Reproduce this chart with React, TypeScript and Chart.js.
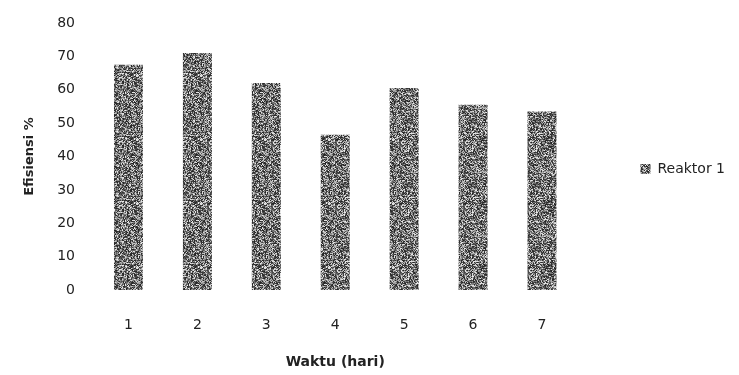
import React, { useEffect, useRef } from "react";
import { Chart, registerables } from "chart.js";

Chart.register(...registerables);

// Efisiensi reaktor per hari
const days: string[] = ["1", "2", "3", "4", "5", "6", "7"];
const reaktor1: number[] = [67.5, 71, 62, 46.5, 60.5, 55.5, 53.5];
const yTicks = { min: 0, max: 80, step: 10 };

const FONT = "'DejaVu Sans', sans-serif";
const TEXT = "#222";
const LEGEND_CENTER_Y = 169;

// speckled grey fill, like a halftone print
function makeSpeckle(): CanvasPattern | string {
  const c = document.createElement("canvas");
  c.width = 64;
  c.height = 64;
  const ctx = c.getContext("2d");
  if (!ctx) return "#5c5c5c";
  const img = ctx.createImageData(64, 64);
  for (let y = 0; y < 64; y++) {
    for (let x = 0; x < 64; x++) {
      let h = Math.imul(x + 1, 374761393) ^ Math.imul(y + 7, 668265263);
      h = Math.imul(h ^ (h >>> 13), 1274126177);
      h = (h ^ (h >>> 16)) >>> 0;
      const t = (h % 1000) / 1000;
      const g = Math.round(35 + Math.pow(t, 1.5) * 205);
      const i = (y * 64 + x) * 4;
      img.data[i] = g;
      img.data[i + 1] = g;
      img.data[i + 2] = g;
      img.data[i + 3] = 255;
    }
  }
  ctx.putImageData(img, 0, 0);
  return ctx.createPattern(c, "repeat") || "#5c5c5c";
}

// keeps the legend entry a little below the plot's mid-height
const legendPlacement = {
  id: "legendPlacement",
  afterLayout(chart: any) {
    const lg = chart.legend;
    if (!lg) return;
    const shift = LEGEND_CENTER_Y - (lg.top + lg.bottom) / 2;
    lg.top += shift;
    lg.bottom += shift;
  },
};

export default function App() {
  const ref = useRef<HTMLCanvasElement>(null);

  useEffect(() => {
    document.body.style.margin = "0";
    const canvas = ref.current;
    if (!canvas) return;
    const fill = makeSpeckle();
    const chart = new Chart(canvas, {
      type: "bar",
      data: {
        labels: days,
        datasets: [
          {
            label: "Reaktor 1",
            data: reaktor1,
            backgroundColor: fill as any,
            borderWidth: 0,
            barPercentage: 0.42,
            categoryPercentage: 1,
          },
        ],
      },
      plugins: [legendPlacement],
      options: {
        animation: false,
        responsive: false,
        devicePixelRatio: 1,
        layout: { padding: { top: 23, right: 4, bottom: 0, left: 0 } },
        plugins: {
          tooltip: { enabled: false },
          legend: {
            position: "right",
            align: "center",
            labels: {
              boxWidth: 10,
              boxHeight: 10,
              padding: 64,
              color: TEXT,
              font: { family: FONT, size: 14 },
            },
          },
        },
        scales: {
          x: {
            grid: { display: false, drawTicks: false },
            border: { display: false },
            ticks: {
              color: TEXT,
              padding: 27,
              font: { family: FONT, size: 14 },
            },
            title: {
              display: true,
              text: "Waktu (hari)",
              color: TEXT,
              padding: { top: 0, bottom: 4 },
              font: { family: FONT, size: 14, weight: "bold" },
            },
            afterFit(scale: any) {
              scale.height = 85;
            },
          },
          y: {
            min: yTicks.min,
            max: yTicks.max,
            grid: { display: false, drawTicks: false },
            border: { display: false },
            ticks: {
              stepSize: yTicks.step,
              color: TEXT,
              padding: 19,
              font: { family: FONT, size: 14 },
            },
            title: {
              display: true,
              text: "Efisiensi %",
              color: TEXT,
              padding: { top: 22, bottom: 0 },
              font: { family: FONT, size: 13, weight: "bold" },
            },
            afterFit(scale: any) {
              scale.width = 94;
              scale.paddingTop = 0;
              scale.paddingBottom = 0;
            },
          },
        },
      },
    });
    return () => chart.destroy();
  }, []);

  return (
    <div style={{ width: 739, height: 375, background: "#fff" }}>
      <canvas ref={ref} width={739} height={375} style={{ display: "block" }} />
    </div>
  );
}
